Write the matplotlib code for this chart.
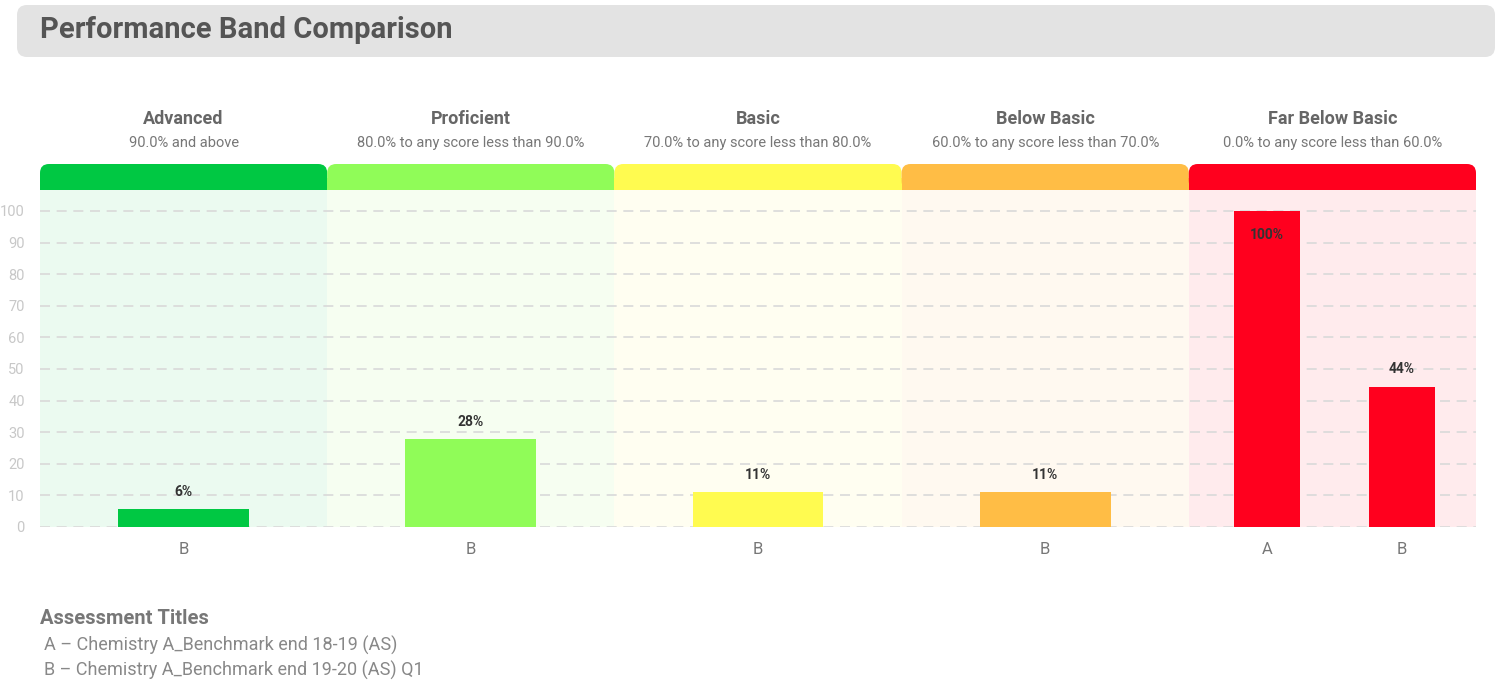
import matplotlib
matplotlib.use("Agg")
import matplotlib.pyplot as plt
from matplotlib.patches import FancyBboxPatch, Rectangle
import numpy as np

plt.rcParams['font.family'] = ['Roboto', 'DejaVu Sans']

# ---- data ----
bands = ["Advanced", "Proficient", "Basic", "Below Basic", "Far Below Basic"]
band_ranges = ["90.0% and above",
               "80.0% to any score less than 90.0%",
               "70.0% to any score less than 80.0%",
               "60.0% to any score less than 70.0%",
               "0.0% to any score less than 60.0%"]
band_colors = ["#00c843", "#90fc58", "#fffb50", "#ffbd45", "#ff001e"]
band_assessments = [["B"], ["B"], ["B"], ["B"], ["A", "B"]]
band_values = [[5.56], [27.78], [11.11], [11.11], [100.0, 44.44]]
y_ticks = [0, 10, 20, 30, 40, 50, 60, 70, 80, 90, 100]
title = "Performance Band Comparison"
legend_title = "Assessment Titles"
legend_lines = ["A \u2013 Chemistry A_Benchmark end 18-19 (AS)",
                "B \u2013 Chemistry A_Benchmark end 19-20 (AS) Q1"]

W, H = 1497, 681
fig = plt.figure(figsize=(W / 100, H / 100), dpi=100)

# overlay axes in pixel coords for decorations
ov = fig.add_axes([0, 0, 1, 1], zorder=0)
ov.set_xlim(0, W)
ov.set_ylim(H, 0)
ov.axis("off")

# title box
ov.add_patch(FancyBboxPatch((17, 5), 1478, 52, boxstyle="round,pad=0,rounding_size=10",
                            fc="#e3e3e3", ec="none"))
ov.text(40, 30, title, fontsize=21, fontweight="bold", color="#555555", va="center", ha="left")

# main axes
x0, x1 = 40, 1476
y_top, y_bot = 190, 527
px_per_unit = 3.16
ymax = (y_bot - y_top) / px_per_unit
ax = fig.add_axes([x0 / W, 1 - y_bot / H, (x1 - x0) / W, (y_bot - y_top) / H], zorder=1)
ax.set_xlim(0, len(bands))
ax.set_ylim(0, ymax)
ax.patch.set_alpha(0)
for s in ax.spines.values():
    s.set_visible(False)

band_w_px = (x1 - x0) / len(bands)
xt, xl = [], []
for i, (name, rng, col, assess, vals) in enumerate(zip(bands, band_ranges, band_colors,
                                                        band_assessments, band_values)):
    ax.axvspan(i, i + 1, color=col, alpha=0.08, lw=0, zorder=0)
    n = len(vals)
    for j, (a, v) in enumerate(zip(assess, vals)):
        if n == 1:
            cx = i + 0.5
        else:
            cx = i + 0.507 + (j - (n - 1) / 2) * 0.47
        bw = 0.456 / n
        ax.bar(cx, v, width=bw, color=col, zorder=3)
        lab = f"{round(v)}%"
        if v > 95:
            ax.text(cx, v - 7.5, lab, ha="center", va="center", fontsize=10,
                    fontweight="bold", color="#333333", zorder=4)
        else:
            ax.text(cx, v + 5.5, lab, ha="center", va="center", fontsize=10,
                    fontweight="bold", color="#333333", zorder=4)
        xt.append(cx)
        xl.append(a)
    # header
    bx = x0 + i * band_w_px
    ov.add_patch(FancyBboxPatch((bx, 164), band_w_px, 26, boxstyle="round,pad=0,rounding_size=9",
                                fc=col, ec="none"))
    ov.add_patch(Rectangle((bx, 178), band_w_px, 12, fc=col, ec="none"))
    ov.text(bx + band_w_px / 2, 119, name, ha="center", va="center", fontsize=13,
            fontweight="bold", color="#666666")
    ov.text(bx + band_w_px / 2, 143, rng, ha="center", va="center", fontsize=10.5,
            color="#777777")

ax.set_yticks(y_ticks)
ax.set_yticklabels([str(t) for t in y_ticks], color="#c8c8c8", fontsize=10.5)
ax.set_xticks(xt)
ax.set_xticklabels(xl, color="#777777", fontsize=12)
ax.tick_params(axis="both", length=0)
ax.tick_params(axis="y", pad=11)
ax.tick_params(axis="x", pad=11)
ax.grid(axis="y", linestyle=(0, (6, 4)), color="#d9d9d9", linewidth=1.2, zorder=1)
ax.set_axisbelow(True)

# legend text
ov.text(40, 618, legend_title, fontsize=14.5, fontweight="bold", color="#777777", va="center")
for k, line in enumerate(legend_lines):
    ov.text(44, 645 + 25 * k, line, fontsize=13, color="#888888", va="center")

fig.savefig("out.png", dpi=100)
